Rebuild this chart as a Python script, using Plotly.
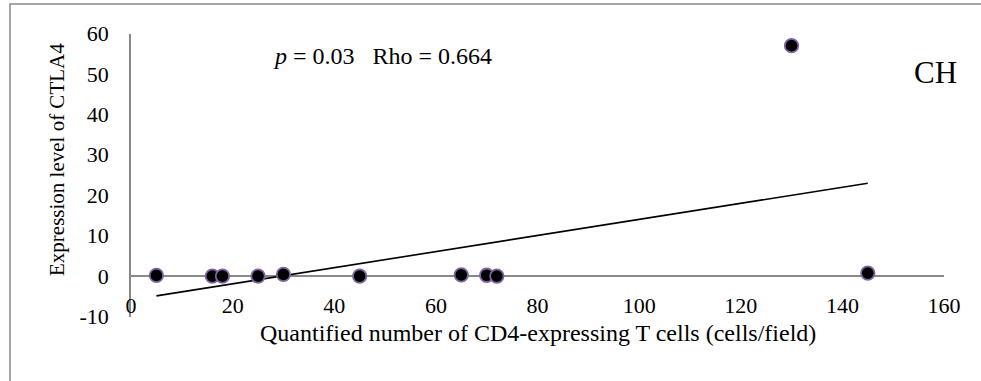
import numpy as np
import plotly.graph_objects as go

# CD4+ T cell counts (cells/field) and CTLA4 expression, CH group
cd4_counts = [5, 16, 18, 25, 30, 45, 65, 70, 72, 130, 145]
ctla4_expr = [0.15, 0.0, 0.0, 0.0, 0.4, 0.0, 0.3, 0.2, 0.0, 57.0, 0.75]

x_ticks = [0, 20, 40, 60, 80, 100, 120, 140, 160]
y_ticks = [-10, 0, 10, 20, 30, 40, 50, 60]
y_tick_text = ["-10", "0", "10", "20", "30", "40", "50", "60"]

stats_text = "<i>p</i> = 0.03\u00a0\u00a0\u00a0Rho = 0.664"
group_label = "CH"
x_title = "Quantified number of CD4-expressing T cells (cells/field)"
y_title = "Expression level of CTLA4"

W, H = 981, 381
FONT = "Liberation Serif, Times New Roman, serif"
AXIS_GREY = "#898989"


def px_x(p):
    return p / W


def px_y(p):
    return (H - p) / H


# least-squares trend line over the observed range
slope, intercept = np.polyfit(cd4_counts, ctla4_expr, 1)
trend_x = [min(cd4_counts), max(cd4_counts)]
trend_y = [slope * v + intercept for v in trend_x]

fig = go.Figure()
fig.add_trace(go.Scatter(
    x=trend_x, y=trend_y, mode="lines",
    line=dict(color="black", width=1.6),
    hoverinfo="skip", showlegend=False,
))
fig.add_trace(go.Scatter(
    x=cd4_counts, y=ctla4_expr, mode="markers",
    marker=dict(size=13.5, color="black", line=dict(color="#8064A2", width=1.8)),
    showlegend=False,
))

fig.update_layout(
    template="none",
    width=W, height=H, autosize=False,
    margin=dict(l=0, r=0, t=0, b=0, pad=0),
    paper_bgcolor="white", plot_bgcolor="white",
    font=dict(family=FONT, size=22, color="black"),
    xaxis=dict(
        domain=[px_x(131), px_x(944)],
        range=[0, 160], tickvals=x_ticks,
        showgrid=False, zeroline=False, showline=False, ticks="",
        anchor="free", position=px_y(290), automargin=False,
        tickfont=dict(size=22),
    ),
    yaxis=dict(
        domain=[px_y(316.5), px_y(33.5)],
        range=[-10, 60], tickvals=y_ticks, ticktext=y_tick_text,
        showgrid=False, ticks="", automargin=False,
        showline=True, linecolor=AXIS_GREY, linewidth=1.5,
        zeroline=True, zerolinecolor=AXIS_GREY, zerolinewidth=1.5,
        ticklabelstandoff=16,
        tickfont=dict(size=22),
    ),
    shapes=[
        # outer chart frame
        dict(type="rect", xref="paper", yref="paper",
             x0=px_x(10), x1=1.02, y0=-0.02, y1=px_y(4),
             line=dict(color=AXIS_GREY, width=1.5), fillcolor="rgba(0,0,0,0)",
             layer="below"),
    ],
    annotations=[
        dict(text=x_title, xref="paper", yref="paper",
             x=px_x(537.5), y=px_y(333), xanchor="center", yanchor="middle",
             showarrow=False, font=dict(size=24)),
        dict(text=y_title, xref="paper", yref="paper", textangle=-90,
             x=px_x(57), y=px_y(160), xanchor="center", yanchor="middle",
             showarrow=False, font=dict(size=21)),
        dict(text=stats_text, xref="paper", yref="paper",
             x=px_x(271), y=px_y(56), xanchor="left", yanchor="middle",
             showarrow=False, font=dict(size=24)),
        dict(text=group_label, xref="paper", yref="paper",
             x=px_x(935), y=px_y(72), xanchor="center", yanchor="middle",
             showarrow=False, font=dict(size=31)),
    ],
)

fig.write_html("out.html")
